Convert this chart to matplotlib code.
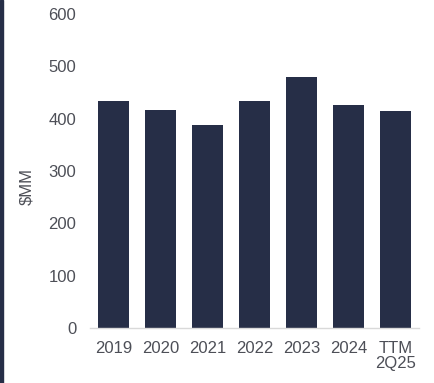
import matplotlib
matplotlib.use("Agg")
import matplotlib.pyplot as plt
from matplotlib.patches import Rectangle

plt.rc('font', family='Liberation Sans', size=12)

years = ["2019", "2020", "2021", "2022", "2023", "2024", "TTM\n2Q25"]
values = [434, 417, 388, 433, 480, 427, 415]
y_ticks = [0, 100, 200, 300, 400, 500, 600]

navy = '#262e47'
text_grey = '#4d4f57'

fig = plt.figure(figsize=(4.35, 3.83), dpi=100)
ax = fig.add_axes([0.207, 0.1436, 0.756, 0.8198])

ax.bar(range(len(years)), values, width=0.66, color=navy)

ax.set_xlim(-0.5, 6.5)
ax.set_ylim(0, 600)
ax.set_yticks(y_ticks)
ax.set_xticks(range(len(years)))
ax.set_xticklabels(years, color=text_grey, linespacing=1.0)
ax.set_yticklabels([str(t) for t in y_ticks], color=text_grey)
ax.tick_params(axis='both', length=0)
ax.tick_params(axis='x', pad=9)
ax.tick_params(axis='y', pad=10)

for side in ['top', 'right', 'left']:
    ax.spines[side].set_visible(False)
ax.spines['bottom'].set_color('#d9d9d9')
ax.spines['bottom'].set_linewidth(1)

ax.set_ylabel('$MM', color=text_grey)
ax.yaxis.set_label_coords(-0.17, 0.45)

# thin navy stripe on the left edge
fig.patches.append(Rectangle((0, 0), 3 / 435, 1, transform=fig.transFigure,
                             color=navy, zorder=5))

fig.savefig('out.png', dpi=100)
